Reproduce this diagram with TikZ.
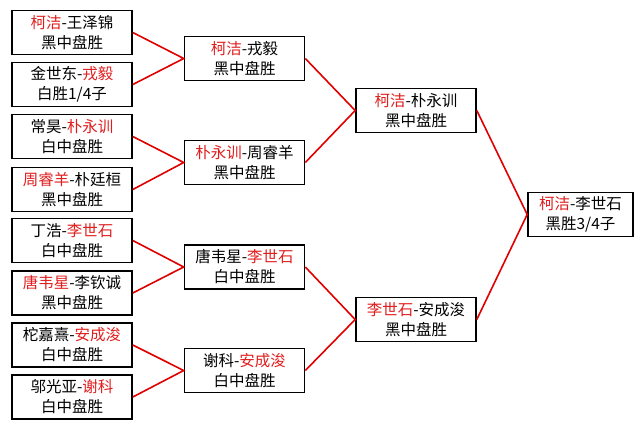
\documentclass[tikz,border=0pt]{standalone}
\usepackage{fontspec}
\setmainfont{Noto Sans CJK SC}
\definecolor{tred}{RGB}{225,30,30}
\definecolor{lred}{RGB}{225,0,0}
\begin{document}
\begin{tikzpicture}[x=1pt,y=-1pt,
  box/.style={draw=black,line width=1.6pt,fill=white,rectangle,inner sep=0pt,
    minimum width=120pt,minimum height=44pt,align=center,
    font=\fontsize{15.5}{20}\selectfont},
  fbox/.style={box,minimum width=105pt},
  link/.style={draw=lred,line width=1.6pt}]
\useasboundingbox (0,0) rectangle (644,429);
\fill[white] (0,0) rectangle (644,429);
% round 1
\node[box] (a1) at (72,32.5) {\textcolor{tred}{柯洁}-王泽锦\\黑中盘胜};
\node[box] (a2) at (72,84.5) {金世东-\textcolor{tred}{戎毅}\\白胜1/4子};
\node[box] (a3) at (72,136.5) {常昊-\textcolor{tred}{朴永训}\\白中盘胜};
\node[box] (a4) at (72,189.5) {\textcolor{tred}{周睿羊}-朴廷桓\\黑中盘胜};
\node[box] (a5) at (72,240.5) {丁浩-\textcolor{tred}{李世石}\\白中盘胜};
\node[box] (a6) at (72,293) {\textcolor{tred}{唐韦星}-李钦诚\\黑中盘胜};
\node[box] (a7) at (72,345) {柁嘉熹-\textcolor{tred}{安成浚}\\白中盘胜};
\node[box] (a8) at (72,397) {邬光亚-\textcolor{tred}{谢科}\\白中盘胜};
% round 2
\node[box] (b1) at (244.5,58.5) {\textcolor{tred}{柯洁}-戎毅\\黑中盘胜};
\node[box] (b2) at (244.5,162.5) {\textcolor{tred}{朴永训}-周睿羊\\黑中盘胜};
\node[box] (b3) at (244.5,267) {唐韦星-\textcolor{tred}{李世石}\\白中盘胜};
\node[box] (b4) at (244.5,370.5) {谢科-\textcolor{tred}{安成浚}\\白中盘胜};
% round 3
\node[box] (c1) at (416,110.5) {\textcolor{tred}{柯洁}-朴永训\\黑中盘胜};
\node[box] (c2) at (416,319.5) {\textcolor{tred}{李世石}-安成浚\\黑中盘胜};
% final
\node[fbox] (d1) at (580.5,214.5) {\textcolor{tred}{柯洁}-李世石\\黑胜3/4子};
% links
\draw[link] (a1.east) -- (b1.west) -- (a2.east);
\draw[link] (a3.east) -- (b2.west) -- (a4.east);
\draw[link] (a5.east) -- (b3.west) -- (a6.east);
\draw[link] (a7.east) -- (b4.west) -- (a8.east);
\draw[link] (b1.east) -- (c1.west) -- (b2.east);
\draw[link] (b3.east) -- (c2.west) -- (b4.east);
\draw[link] (c1.east) -- (d1.west) -- (c2.east);
\end{tikzpicture}
\end{document}
